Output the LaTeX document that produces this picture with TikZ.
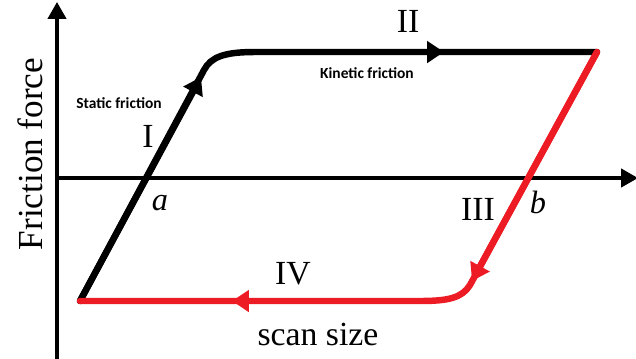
\documentclass[tikz,border=0pt]{standalone}
\usepackage{fontspec}
\setmainfont{Liberation Serif}
\newfontfamily\labelsans{Carlito}
\usepackage{xcolor}
\usetikzlibrary{arrows.meta}
\definecolor{loopred}{RGB}{237,28,36}
\tikzset{
  axisline/.style = {line width=2.2pt, -{Triangle[length=12pt, width=13pt]}},
  blkpath/.style  = {line width=4.6pt, line cap=round, black},
  redpath/.style  = {line width=4.6pt, line cap=round, loopred},
  arr/.style      = {-{Triangle[length=12pt, width=15pt]}, line cap=butt},
  roman/.style    = {font=\fontsize{24}{28}\selectfont, inner sep=0pt, anchor=base},
  ptlbl/.style    = {font=\fontsize{23}{27}\selectfont\itshape, inner sep=0pt, anchor=base},
  smalllbl/.style = {font=\labelsans\bfseries\fontsize{11}{13}\selectfont,
                     inner sep=0pt, anchor=base},
}

\begin{document}
\begin{tikzpicture}[x=0.025cm, y=-0.025cm]
  \useasboundingbox (0,0) rectangle (636,358);
  % axes
  \coordinate (orig) at (57,178);
  \coordinate (ytop) at (57,2);
  \coordinate (ybot) at (57,360);
  \coordinate (xend) at (638,178);
  \draw[axisline] (ybot) -- (ytop);
  \draw[axisline] (orig) -- (xend);

  % loop corners
  \coordinate (p0) at (80,301);
  \coordinate (p1) at (201,77);
  \coordinate (p2) at (204,70);
  \coordinate (p3) at (255,52);
  \coordinate (p4) at (444,52);
  \coordinate (p5) at (597,52);
  \coordinate (q1) at (472,281);
  \coordinate (q2) at (470,285);
  \coordinate (q3) at (420,301);
  \coordinate (q4) at (232,301);

  % stick (black) and slip back (red)
  \draw[blkpath] (p0) -- (p2) .. controls (211,57) and (224,52) .. (p3) -- (p5);
  \draw[blkpath, arr] (p0) -- (p1);
  \draw[blkpath, arr] (p3) -- (p4);
  \draw[redpath] (p5) -- (q2) .. controls (462,298) and (448,301) .. (q3) -- (p0);
  \draw[redpath, arr] (p5) -- (q1);
  \draw[redpath, arr] (q3) -- (q4);

  % labels
  \node[roman] (lblI)   at (148,147) {I};
  \node[roman] (lblII)  at (408,32)  {II};
  \node[roman] (lblIII) at (478,220) {III};
  \node[roman] (lblIV)  at (293,284) {IV};
  \node[ptlbl] (lbla) at (160,210) {a};
  \node[ptlbl] (lblb) at (538,213) {b};
  \node[smalllbl] (stat) at (119,108) {Static friction};
  \node[smalllbl] (kin)  at (367,78)  {Kinetic friction};
  \node[roman] (xlbl) at (318,345) {scan size};
  \node[rotate=90, anchor=base, inner sep=0pt,
        font=\fontsize{25}{30}\selectfont] (ylbl) at (42,154) {Friction force};
\end{tikzpicture}
\end{document}
